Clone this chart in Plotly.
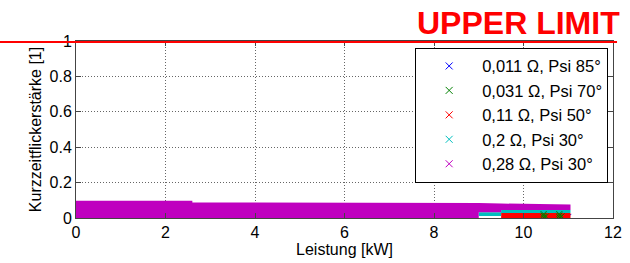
import plotly.graph_objects as go

# ---------------- data ----------------
series_names = ["0,011 Ω, Psi 85°", "0,031 Ω, Psi 70°", "0,11 Ω, Psi 50°",
                "0,2 Ω, Psi 30°", "0,28 Ω, Psi 30°"]
series_colors = ["#0000FF", "#008000", "#FF0000", "#00BFBF", "#BF00BF"]

# 0,28 Ohm (magenta) band envelope: power [kW] vs Pst [1]
mag_hi_kw = [0.0, 2.6, 2.6, 8.8, 9.0, 9.5, 10.5, 11.05]
mag_hi_pst = [0.098, 0.098, 0.088, 0.088, 0.085, 0.082, 0.078, 0.076]
mag_lo_kw = [0.0, 9.0, 9.0, 9.5, 9.5, 11.05]
mag_lo_pst = [0.0, 0.0, 0.032, 0.032, 0.045, 0.045]

# 0,2 Ohm (cyan) band envelope
cya_hi_kw = [9.0, 9.5, 9.5, 11.05]
cya_hi_pst = [0.032, 0.032, 0.045, 0.045]
cya_lo_kw = [9.0, 9.5, 9.5, 11.05]
cya_lo_pst = [0.012, 0.012, 0.028, 0.028]

# 0,11 Ohm (red) band envelope
red_hi_kw = [9.5, 11.05]
red_hi_pst = [0.028, 0.028]
red_lo_kw = [9.5, 11.05]
red_lo_pst = [0.0, 0.0]

# 0,031 Ohm (green) visible points
grn_kw = [10.45, 10.45, 10.45, 10.5, 10.8, 10.8, 10.8, 10.85]
grn_pst = [0.004, 0.013, 0.022, 0.009, 0.004, 0.013, 0.022, 0.009]

# 0,011 Ohm (blue) points (hidden beneath the others)
blu_kw = [9.8, 10.2, 10.6, 11.0]
blu_pst = [0.006, 0.006, 0.006, 0.006]

x_ticks = [0, 2, 4, 6, 8, 10, 12]
y_ticks = [0, 0.2, 0.4, 0.6, 0.8, 1]
y_tick_text = ["0", "0.2", "0.4", "0.6", "0.8", "1"]
limit_value = 1.0

FONT = "Liberation Sans, Arial, sans-serif"

fig = go.Figure()


def band(hx, hy, lx, ly, color):
    return go.Scatter(x=list(hx) + list(lx)[::-1], y=list(hy) + list(ly)[::-1],
                      mode="lines", fill="toself", fillcolor=color,
                      line=dict(width=0, color=color), showlegend=False,
                      hoverinfo="skip")


fig.add_trace(go.Scatter(x=blu_kw, y=blu_pst, mode="markers", showlegend=False,
                         marker=dict(symbol="x-thin", size=6, line=dict(width=1, color=series_colors[0]))))
fig.add_trace(band(red_hi_kw, red_hi_pst, red_lo_kw, red_lo_pst, series_colors[2]))
fig.add_trace(band(cya_hi_kw, cya_hi_pst, cya_lo_kw, cya_lo_pst, series_colors[3]))
fig.add_trace(band(mag_hi_kw, mag_hi_pst, mag_lo_kw, mag_lo_pst, series_colors[4]))
fig.add_trace(go.Scatter(x=grn_kw, y=grn_pst, mode="markers", showlegend=False,
                         marker=dict(symbol="x-thin", size=6, line=dict(width=1, color=series_colors[1]))))

# legend entries
for name, col in zip(series_names, series_colors):
    fig.add_trace(go.Scatter(x=[None], y=[None], mode="markers", name=name,
                             marker=dict(symbol="x-thin", size=7, color=col,
                                         line=dict(width=1, color=col))))

axis_common = dict(showline=True, linecolor="#444444", linewidth=1, mirror="ticks",
                   ticks="inside", ticklen=5, tickcolor="#444444",
                   showgrid=True, gridcolor="#666666", gridwidth=1, griddash="1px,2px",
                   zeroline=False, automargin=False,
                   tickfont=dict(family=FONT, size=16, color="#000000"))

fig.update_xaxes(range=[0, 12], tickvals=x_ticks,
                 title=dict(text="Leistung [kW]", font=dict(family=FONT, size=16, color="#000000"), standoff=2),
                 **axis_common)
fig.update_yaxes(range=[0, 1], tickvals=y_ticks, ticktext=y_tick_text,
                 title=dict(text="Kurzzeitflickerstärke [1]", font=dict(family=FONT, size=16, color="#000000"), standoff=3),
                 **axis_common)

fig.add_shape(type="line", xref="paper", yref="y", x0=-0.15, x1=1.0075,
              y0=limit_value, y1=limit_value, line=dict(color="#FF0000", width=4))
fig.add_annotation(text="<b>UPPER LIMIT</b>", xref="paper", yref="paper",
                   x=1.0168, y=1.10, xanchor="right", yanchor="middle", showarrow=False,
                   font=dict(family=FONT, size=32, color="#FF0000"))

fig.update_layout(
    width=630, height=263,
    margin=dict(l=76, r=17, t=41, b=45, autoexpand=False),
    paper_bgcolor="white", plot_bgcolor="white",
    font=dict(family=FONT, size=16, color="#000000"),
    legend=dict(x=0.991, y=0.962, xanchor="right", yanchor="top",
                bgcolor="white", bordercolor="#000000", borderwidth=1,
                font=dict(family=FONT, size=16.5, color="#000000"),
                itemwidth=56, tracegroupgap=0),
)

fig.write_html("out.html", config={"displayModeBar": False},
               post_script="document.body.style.margin='0';")
